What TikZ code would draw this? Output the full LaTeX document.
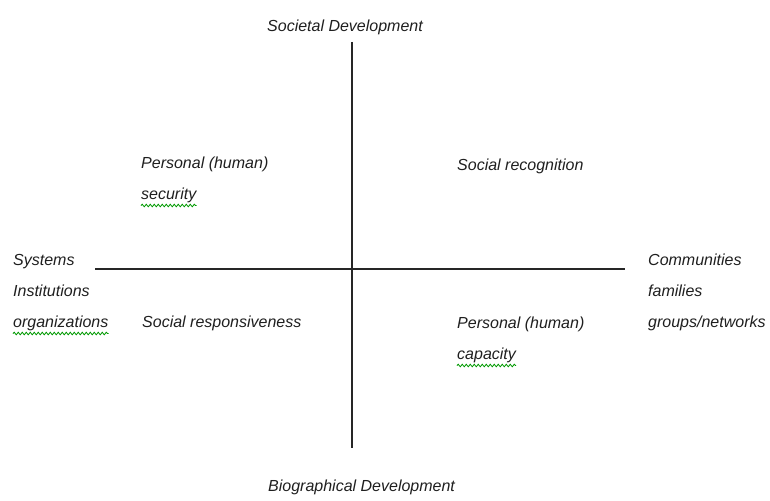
\documentclass[tikz,border=0pt]{standalone}
\usepackage{fontspec}
\setmainfont{Liberation Sans}
\usetikzlibrary{decorations.pathmorphing}
\begin{document}
\begin{tikzpicture}[x=1pt,y=-1pt,
  lbl/.style={anchor=base west,inner sep=0pt,font=\fontsize{16}{19}\selectfont\itshape,text=black!88},
  axis/.style={draw=black!85,line width=1.4pt},
  squig/.style={draw=green!60!black,line width=0.8pt,decorate,decoration={snake,amplitude=1.3pt,segment length=4pt}}]
\useasboundingbox (0,0) rectangle (770,500);
% axes
\coordinate (vt) at (352,42);
\coordinate (vb) at (352,448);
\coordinate (hl) at (95,269);
\coordinate (hr) at (625,269);
\draw[axis] (vt) -- (vb);
\draw[axis] (hl) -- (hr);
% axis labels
\node[lbl] (soc) at (267,32) {Societal Development};
\node[lbl] (bio) at (268,491) {Biographical Development};
\node[lbl] (sys) at (13,265) {Systems};
\node[lbl] (ins) at (13,296) {Institutions};
\node[lbl] (org) at (13,327) {organizations};
\node[lbl] (com) at (648,265) {Communities};
\node[lbl] (fam) at (648,296) {families};
\node[lbl] (grp) at (648,327) {groups/networks};
% quadrant labels
\node[lbl] (ps1) at (141,168) {Personal (human)};
\node[lbl] (ps2) at (141,199) {security};
\node[lbl] (srec) at (457,170) {Social recognition};
\node[lbl] (sres) at (142,327) {Social responsiveness};
\node[lbl] (pc1) at (457,328) {Personal (human)};
\node[lbl] (pc2) at (457,359) {capacity};
% spell-check squiggles
\draw[squig] ([yshift=-3pt]ps2.south west) -- ([yshift=-3pt]ps2.south east);
\draw[squig] ([yshift=-3pt]org.south west) -- ([yshift=-3pt]org.south east);
\draw[squig] ([yshift=-3pt]pc2.south west) -- ([yshift=-3pt]pc2.south east);
\end{tikzpicture}
\end{document}
